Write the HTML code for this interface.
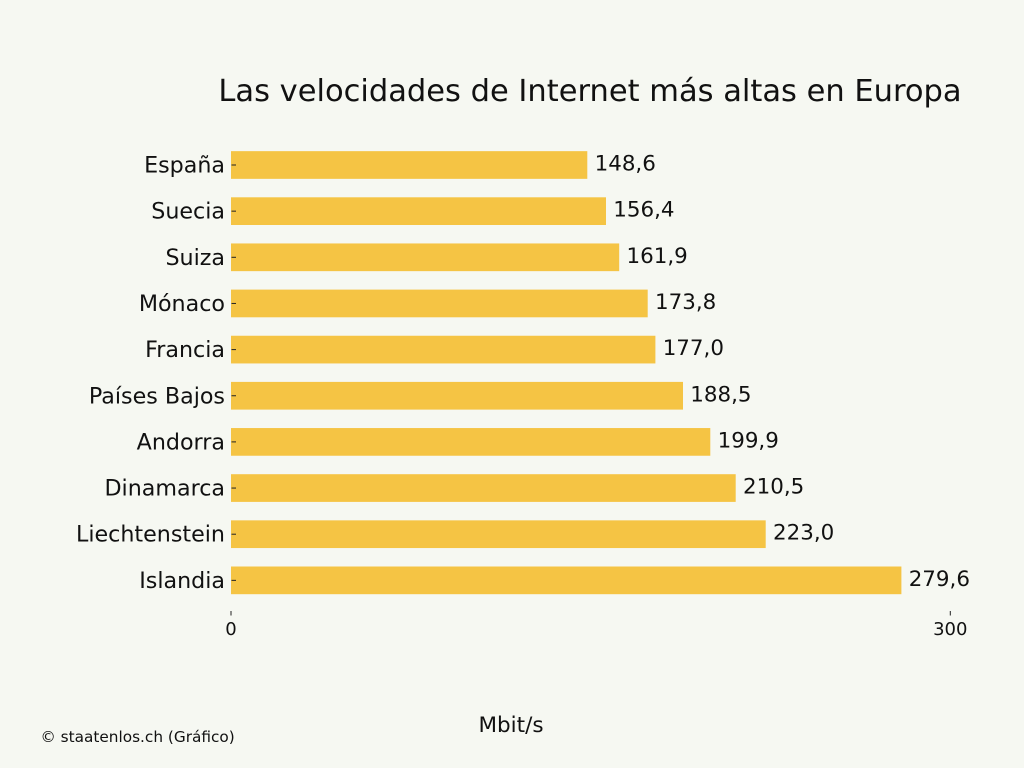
<!DOCTYPE html>
<html>
<head>
<meta charset="utf-8">
<style>
  html, body { margin: 0; padding: 0; background: #f6f8f2; }
  svg { display: block; }
  text { font-family: "DejaVu Sans", "Liberation Sans", sans-serif; fill: #111; }
</style>
</head>
<body>
<svg width="1024" height="768" viewBox="0 0 1024 768" xmlns="http://www.w3.org/2000/svg">
  <rect x="0" y="0" width="1024" height="768" fill="#f6f8f2"/>

  <text x="590" y="101" font-size="30.5" text-anchor="middle">Las velocidades de Internet más altas en Europa</text>

  <g fill="#f5c444">
    <rect x="231" y="151.15" width="356.3" height="27.7"/>
    <rect x="231" y="197.3" width="375.0" height="27.7"/>
    <rect x="231" y="243.45" width="388.2" height="27.7"/>
    <rect x="231" y="289.6" width="416.7" height="27.7"/>
    <rect x="231" y="335.75" width="424.4" height="27.7"/>
    <rect x="231" y="381.9" width="452.0" height="27.7"/>
    <rect x="231" y="428.05" width="479.3" height="27.7"/>
    <rect x="231" y="474.2" width="504.7" height="27.7"/>
    <rect x="231" y="520.35" width="534.7" height="27.7"/>
    <rect x="231" y="566.5" width="670.4" height="27.7"/>
  </g>

  <g stroke="#222" stroke-width="1">
    <line x1="231.5" y1="165" x2="236" y2="165"/>
    <line x1="231.5" y1="211.15" x2="236" y2="211.15"/>
    <line x1="231.5" y1="257.3" x2="236" y2="257.3"/>
    <line x1="231.5" y1="303.45" x2="236" y2="303.45"/>
    <line x1="231.5" y1="349.6" x2="236" y2="349.6"/>
    <line x1="231.5" y1="395.75" x2="236" y2="395.75"/>
    <line x1="231.5" y1="441.9" x2="236" y2="441.9"/>
    <line x1="231.5" y1="488.05" x2="236" y2="488.05"/>
    <line x1="231.5" y1="534.2" x2="236" y2="534.2"/>
    <line x1="231.5" y1="580.35" x2="236" y2="580.35"/>
    <line x1="231" y1="611" x2="231" y2="615.5"/>
    <line x1="950.3" y1="611" x2="950.3" y2="615.5"/>
  </g>

  <g font-size="22.2" text-anchor="end">
    <text x="225" y="172.5">España</text>
    <text x="225" y="218.65">Suecia</text>
    <text x="225" y="264.8">Suiza</text>
    <text x="225" y="310.95">Mónaco</text>
    <text x="225" y="357.1">Francia</text>
    <text x="225" y="403.25">Países Bajos</text>
    <text x="225" y="449.4">Andorra</text>
    <text x="225" y="495.55">Dinamarca</text>
    <text x="225" y="541.7">Liechtenstein</text>
    <text x="225" y="587.85">Islandia</text>
  </g>

  <g font-size="21.4">
    <text x="594.6" y="170.5">148,6</text>
    <text x="613.3" y="216.65">156,4</text>
    <text x="626.5" y="262.8">161,9</text>
    <text x="655.0" y="308.95">173,8</text>
    <text x="662.7" y="355.1">177,0</text>
    <text x="690.3" y="401.25">188,5</text>
    <text x="717.6" y="447.4">199,9</text>
    <text x="743.0" y="493.55">210,5</text>
    <text x="773.0" y="539.7">223,0</text>
    <text x="908.7" y="585.85">279,6</text>
  </g>

  <g font-size="18" text-anchor="middle">
    <text x="231" y="635">0</text>
    <text x="950.3" y="635">300</text>
  </g>

  <text x="511" y="732" font-size="21.5" text-anchor="middle">Mbit/s</text>
  <text x="40.5" y="742" font-size="15.3">© staatenlos.ch (Gráfico)</text>
</svg>
</body>
</html>
